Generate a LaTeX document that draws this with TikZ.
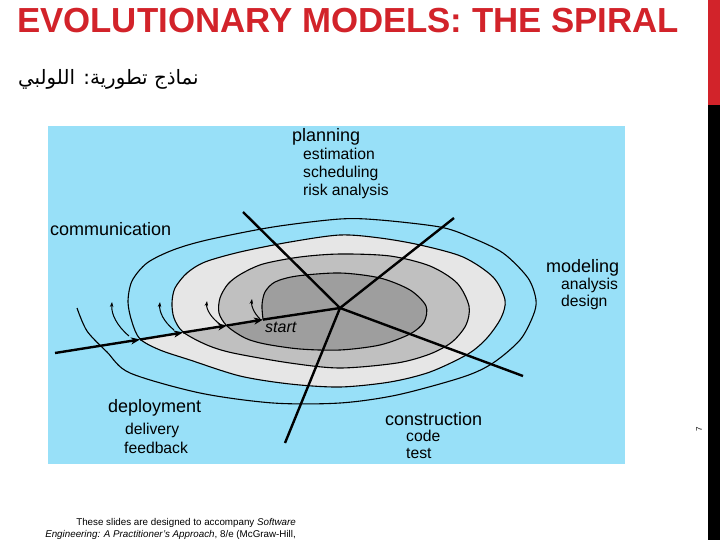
\documentclass[tikz,border=0pt]{standalone}
\usepackage{fontspec}
\setmainfont{Liberation Sans}
\newfontfamily\arabicfont[Script=Arabic]{DejaVu Sans}
\TeXXeTstate=1
\usetikzlibrary{arrows.meta}
\definecolor{titlered}{RGB}{210,35,42}
\definecolor{skyblue}{RGB}{152,224,248}
\definecolor{lightring}{RGB}{230,230,230}
\definecolor{midring}{RGB}{192,192,192}
\definecolor{darkring}{RGB}{158,158,158}
\begin{document}
\begin{tikzpicture}[x=1pt,y=-1pt,
  head/.style={font=\fontsize{18}{20}\selectfont, anchor=base west, inner sep=0pt},
  sub/.style={font=\fontsize{15.7}{18}\selectfont, anchor=base west, inner sep=0pt},
  spiralline/.style={line width=1.1pt, black},
  radial/.style={line width=2.4pt, black},
  mainarrow/.style={line width=2.4pt, black, -{Stealth[length=9pt,width=7pt,inset=2.5pt]}},
  smallarrow/.style={line width=1pt, black, -{Stealth[length=5pt,width=3.5pt]}}]
\useasboundingbox (0,0) rectangle (720,540);
% right bar
\fill[titlered] (708,0) rectangle (720,105);
\fill[black] (708,105) rectangle (720,540);
% title
\node[anchor=base west, inner sep=0pt, text=titlered, font=\fontsize{34.8}{36}\selectfont\bfseries] (title) at (17,33) {EVOLUTIONARY MODELS: THE SPIRAL};
\node[anchor=base west, inner sep=0pt, font=\arabicfont\fontsize{19.8}{22}\selectfont] (sub) at (18,85) {\beginR نماذج تطورية: اللولبي\endR};
% diagram background
\fill[skyblue] (48,126) rectangle (625,464);
% rings
\fill[lightring] plot[smooth] coordinates {(183,332) (174,318) (172,303) (175,288) (187,273) (205,262) (240,252) (290,242) (340,235) (380,238) (420,245) (463,257) (493,277) (505,300) (501,318) (487,338) (468,354) (430,372) (390,382) (340,387) (290,384) (240,376) (190,360) (160,350) (140,339)} -- cycle;
\fill[midring] plot[smooth] coordinates {(227,326) (219,313) (220,298) (228,284) (241,274) (263,264) (300,257) (340,254) (390,256) (430,266) (457,283) (469,306) (466,325) (452,342) (430,354) (397,363) (340,368) (290,363) (233,353) (207,345) (183,332)} -- cycle;
\fill[darkring] plot[smooth] coordinates {(263,319) (262,305) (265,292) (275,282) (297,276) (340,273) (380,278) (410,290) (426,306) (424,322) (410,334) (380,345) (340,350) (300,349) (265,344) (245,338) (227,326)} -- cycle;
% spiral line
\draw[spiralline] plot[smooth] coordinates {(263,319) (262,305) (265,292) (275,282) (297,276) (340,273) (380,278) (410,290) (426,306) (424,322) (410,334) (380,345) (340,350) (300,349) (265,344) (245,338)
 (227,326) (219,313) (220,298) (228,284) (241,274) (263,264) (300,257) (340,254) (390,256) (430,266) (457,283) (469,306) (466,325) (452,342) (430,354) (397,363) (340,368) (290,363) (233,353) (207,345)
 (183,332) (174,318) (172,303) (175,288) (187,273) (205,262) (240,252) (290,242) (340,235) (380,238) (420,245) (463,257) (493,277) (505,300) (501,318) (487,338) (468,354) (430,372) (390,382) (340,387) (290,384) (240,376) (190,360) (160,350)
 (140,339) (132,322) (128,302) (132,281) (147,263) (173,250) (207,240) (273,227) (340,219) (380,220) (440,227) (470,237) (503,253) (528,278) (536,300) (533,316) (520,340) (493,363) (463,377) (397,395) (340,403) (273,403) (200,393) (130,373) (107,352) (87,331) (77,308)};
% named points
\coordinate (C) at (340,308);
\coordinate (M0) at (55,353);
\coordinate (A1) at (140,339.5);
\coordinate (A2) at (183,332.5);
\coordinate (A3) at (227,325.5);
\coordinate (A4) at (263,319.6);
\coordinate (R1) at (243,212);
\coordinate (R2) at (454,218);
\coordinate (R3) at (523,376);
\coordinate (R4) at (285,443);
% radial lines
\draw[radial] (C) -- (R1);
\draw[radial] (C) -- (R2);
\draw[radial] (C) -- (R3);
\draw[radial] (C) -- (R4);
% main axis with arrows
\draw[mainarrow] (M0) -- (A1);
\draw[mainarrow] (A1) -- (A2);
\draw[mainarrow] (A2) -- (A3);
\draw[mainarrow] (A3) -- (A4);
\draw[radial] (A4) -- (C);
% small arrows
\coordinate (S1) at (129,336); \coordinate (T1) at (112,302);
\coordinate (S2) at (174,330); \coordinate (T2) at (160,302);
\coordinate (S3) at (221,325); \coordinate (T3) at (207,301);
\coordinate (S4) at (260,319); \coordinate (T4) at (252,299);
\draw[smallarrow] (S1) .. controls (117,326) and (111,314) .. (T1);
\draw[smallarrow] (S2) .. controls (164,322) and (159,312) .. (T2);
\draw[smallarrow] (S3) .. controls (211,318) and (206,309) .. (T3);
\draw[smallarrow] (S4) .. controls (254,313) and (251,306) .. (T4);
% labels
\node[head] (planning) at (292,142) {planning};
\node[sub] (est) at (303,160) {estimation};
\node[sub] (sched) at (303,177.5) {scheduling};
\node[sub] (risk) at (303,195.5) {risk analysis};
\node[head] (comm) at (50,236) {communication};
\node[head] (model) at (546,272.5) {modeling};
\node[sub] (ana) at (561,289) {analysis};
\node[sub] (des) at (561,306) {design};
\node[head] (deploy) at (108,412.5) {deployment};
\node[sub] (deliv) at (125,434) {delivery};
\node[sub] (feed) at (124,453) {feedback};
\node[head] (constr) at (385,425) {construction};
\node[sub] (code) at (406,441) {code};
\node[sub] (test) at (406,458.5) {test};
\node[anchor=base west, inner sep=0pt, font=\fontsize{16}{18}\selectfont\itshape] (start) at (265,332) {start};
% footer
\node[anchor=base east, inner sep=0pt, font=\fontsize{9.8}{11}\selectfont] (f1) at (296,525) {These slides are designed to accompany \textit{Software}};
\node[anchor=base east, inner sep=0pt, font=\fontsize{9.8}{11}\selectfont] (f2) at (296,537) {\textit{Engineering: A Practitioner's Approach}, 8/e (McGraw-Hill,};
% page number
\node[rotate=90, inner sep=0pt, font=\fontsize{8}{9}\selectfont] (pg) at (699,429) {7};
\end{tikzpicture}
\end{document}
